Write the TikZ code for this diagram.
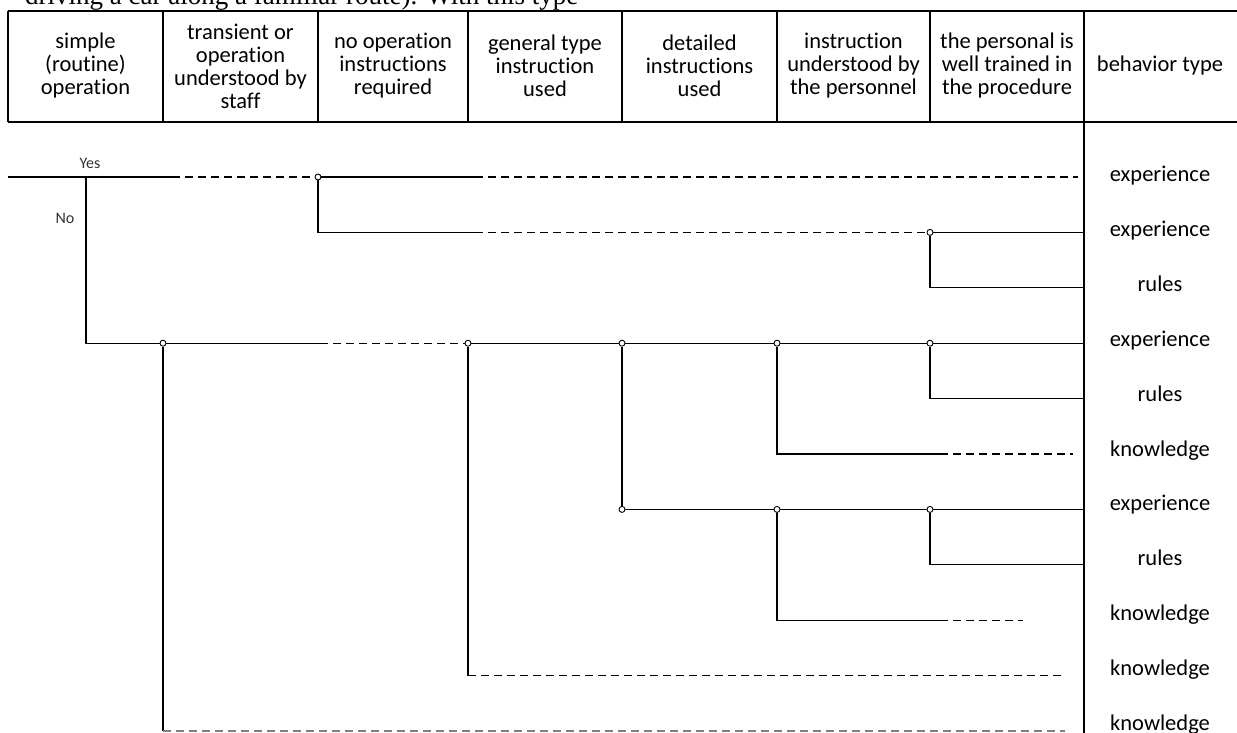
\documentclass[tikz,border=0pt]{standalone}
\usepackage{fontspec}
\newfontfamily\calibri[Ligatures=NoCommon]{Carlito}
\newfontfamily\timesfont{Liberation Serif}
\tikzset {branch/.style={line width=1.3pt},
  open/.style={line width=1.4pt,dash pattern=on 8pt off 5pt},
  joint/.style={circle,draw,fill=white,line width=0.9pt,inner sep=0pt,minimum size=6pt},
  head/.style={align=center,font=\calibri\fontsize{22.5}{23}\selectfont},
  result/.style={anchor=base,font=\calibri\fontsize{22.5}{25}\selectfont},
  answer/.style={font=\calibri\fontsize{16}{18}\selectfont,text=black!80}}

\begin{document}
\begin{tikzpicture}[x=1pt,y=-1pt]
\clip (0,0) rectangle (1237,733);
\node[anchor=base west,inner sep=0pt,font=\timesfont\fontsize{27}{30}\selectfont] (caption) at (25,5) {driving a car along a familiar route). With this type};

% table head
\draw[branch] (8,11) -- (1237,11) (8,122) -- (1237,122);
\foreach \x in {8,163,318,468,622,777,930}
  \draw[branch] (\x,11) -- (\x,122);
\draw[branch] (1084,11) coordinate (bartop) -- (1084,733) coordinate (barbot);
\foreach \x/\txt [count=\k] in {85.5/{simple\\(routine)\\operation},
  240.5/{transient or\\operation\\understood by\\staff},
  393/{no operation\\instructions\\required},
  545/{general type\\instruction\\used},
  699.5/{detailed\\instructions\\used},
  853.5/{instruction\\understood by\\the personnel},
  1007/{the personal is\\well trained in\\the procedure},
  1160/{behavior type}}
  \node[head] (head\k) at (\x,66) {\txt};

% behavior types
\foreach \txt [count=\i] in {experience,experience,rules,experience,rules,knowledge,experience,rules,knowledge,knowledge,knowledge}
  \node[result] (type\i) at (1160,{182+54.8*(\i-1)}) {\txt};

\node[answer] (yes) at (90,163) {Yes};
\node[answer] (no) at (65,218) {No};

% branch points
\coordinate (root) at (8,177);
\coordinate (split) at (86,177);
\node[joint] (j1) at (318,177) {};
\node[joint] (j2) at (930,232.4) {};
\node[joint] (k1) at (163,343.2) {};
\node[joint] (k2) at (468,343.2) {};
\node[joint] (k3) at (622,343.2) {};
\node[joint] (k4) at (777,343.2) {};
\node[joint] (k5) at (930,343.2) {};
\node[joint] (m3) at (622,509.4) {};
\node[joint] (m4) at (777,509.4) {};
\node[joint] (m5) at (930,509.4) {};

\coordinate (a1) at (172,177);
\coordinate (a2) at (475,177);
\coordinate (a3) at (1078,177);
\coordinate (b1) at (475,232.4);
\coordinate (p3) at (1084,287.8);
\coordinate (c1) at (320,343.2);
\coordinate (p5) at (1084,398.6);
\coordinate (d1) at (940,454);
\coordinate (d2) at (1073,454);
\coordinate (p8) at (1084,564.8);
\coordinate (e1) at (940,620.2);
\coordinate (e2) at (1023,620.2);
\coordinate (f1) at (468,675.6);
\coordinate (f2) at (1065,675.6);
\coordinate (g1) at (163,731);
\coordinate (g2) at (1065,731);

\draw[branch] (root) -- (a1);
\draw[open] (a1) -- (j1);
\draw[branch] (j1) -- (a2);
\draw[open] (a2) -- (a3);
\draw[branch] (split) |- (k1);

\draw[branch] (j1) |- (b1);
\draw[open] (b1) -- (j2);
\draw[branch] (j2) -- (j2 -| bartop);
\draw[branch] (j2) |- (p3);

\draw[branch] (k1) -- (c1);
\draw[open] (c1) -- (k2);
\draw[branch] (k2) -- (k3) -- (k4) -- (k5) -- (k5 -| bartop);
\draw[branch] (k5) |- (p5);
\draw[branch] (k4) |- (d1);
\draw[open] (d1) -- (d2);

\draw[branch] (k3) -- (m3) -- (m4) -- (m5) -- (m5 -| bartop);
\draw[branch] (m5) |- (p8);
\draw[branch] (m4) |- (e1);
\draw[open] (e1) -- (e2);

\draw[branch] (k2) -- (f1);
\draw[open] (f1) -- (f2);
\draw[branch] (k1) -- (g1);
\draw[open,gray] (g1) -- (g2);

\end{tikzpicture}
\end{document}
